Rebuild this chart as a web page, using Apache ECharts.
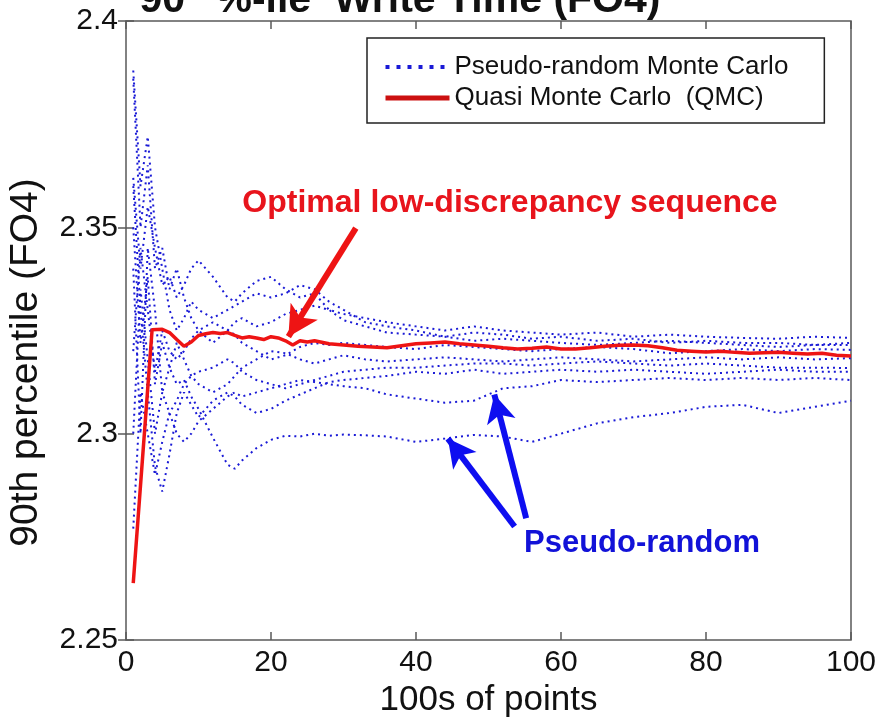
<!DOCTYPE html>
<html>
<head>
<meta charset="utf-8">
<script src="https://cdn.jsdelivr.net/npm/echarts@6/dist/echarts.min.js"></script>
<style>
  html, body { margin: 0; padding: 0; background: #fff; }
  #chart { width: 879px; height: 719px; }
</style>
</head>
<body>
<div id="chart"></div>
<script>
// x positions (100s of points) where the pseudo-random runs were read
const mcX = [1, 2, 3, 4, 5, 6, 7, 8, 9, 10, 12, 14, 15, 16, 18, 20, 22, 24, 26, 28, 30, 33, 36, 40, 44, 48, 52, 56, 60, 65, 70, 75, 80, 85, 90, 95, 100];

// pseudo-random Monte Carlo runs (90th percentile, FO4)
const mcRun1 = [2.362, 2.340, 2.355, 2.345, 2.336, 2.338, 2.333, 2.336, 2.340, 2.342, 2.338, 2.333, 2.332, 2.334, 2.337, 2.338, 2.335, 2.333, 2.334, 2.330, 2.329, 2.328, 2.327, 2.326, 2.325, 2.326, 2.325, 2.3245, 2.324, 2.3245, 2.3235, 2.324, 2.3235, 2.3232, 2.323, 2.3235, 2.3232];
const mcRun2 = [2.388, 2.360, 2.372, 2.350, 2.340, 2.330, 2.325, 2.328, 2.332, 2.330, 2.328, 2.330, 2.331, 2.332, 2.334, 2.333, 2.334, 2.336, 2.335, 2.332, 2.330, 2.327, 2.326, 2.325, 2.3235, 2.3245, 2.324, 2.323, 2.3235, 2.3225, 2.323, 2.322, 2.3225, 2.322, 2.322, 2.3215, 2.322];
const mcRun3 = [2.277, 2.310, 2.300, 2.290, 2.298, 2.305, 2.308, 2.312, 2.314, 2.315, 2.316, 2.318, 2.317, 2.315, 2.313, 2.312, 2.311, 2.312, 2.313, 2.314, 2.315, 2.3155, 2.316, 2.316, 2.3165, 2.317, 2.317, 2.3165, 2.317, 2.3175, 2.317, 2.3165, 2.317, 2.3165, 2.316, 2.316, 2.3159];
const mcRun4 = [2.350, 2.322, 2.338, 2.312, 2.322, 2.316, 2.312, 2.313, 2.309, 2.306, 2.299, 2.2925, 2.2915, 2.2935, 2.2965, 2.2985, 2.2995, 2.2993, 2.300, 2.2995, 2.2998, 2.2996, 2.2993, 2.298, 2.2988, 2.2997, 2.2993, 2.298, 2.300, 2.3025, 2.304, 2.305, 2.3065, 2.307, 2.305, 2.3065, 2.308];
const mcRun5 = [2.300, 2.335, 2.318, 2.300, 2.310, 2.305, 2.300, 2.298, 2.300, 2.303, 2.306, 2.309, 2.310, 2.309, 2.310, 2.311, 2.312, 2.313, 2.3125, 2.312, 2.3115, 2.311, 2.3095, 2.3085, 2.3075, 2.308, 2.311, 2.3115, 2.313, 2.3125, 2.313, 2.3135, 2.313, 2.3135, 2.313, 2.3135, 2.313];
const mcRun6 = [2.320, 2.345, 2.330, 2.315, 2.325, 2.320, 2.318, 2.320, 2.323, 2.325, 2.327, 2.325, 2.324, 2.322, 2.320, 2.318, 2.319, 2.321, 2.322, 2.3215, 2.322, 2.3215, 2.321, 2.3205, 2.3215, 2.321, 2.3205, 2.320, 2.3205, 2.321, 2.3205, 2.3195, 2.320, 2.3205, 2.320, 2.3205, 2.3203];
const mcRun7 = [2.340, 2.300, 2.345, 2.330, 2.310, 2.316, 2.322, 2.318, 2.314, 2.312, 2.310, 2.312, 2.314, 2.316, 2.318, 2.320, 2.3195, 2.318, 2.317, 2.318, 2.319, 2.318, 2.3175, 2.318, 2.3185, 2.318, 2.3175, 2.318, 2.3185, 2.318, 2.3175, 2.318, 2.3185, 2.318, 2.3185, 2.318, 2.3183];
const mcRun8 = [2.386, 2.350, 2.365, 2.340, 2.345, 2.335, 2.340, 2.333, 2.328, 2.325, 2.322, 2.325, 2.327, 2.328, 2.326, 2.327, 2.329, 2.330, 2.331, 2.330, 2.3275, 2.326, 2.3245, 2.324, 2.3235, 2.3225, 2.323, 2.3225, 2.322, 2.3215, 2.322, 2.3225, 2.322, 2.3215, 2.321, 2.3215, 2.3215];
const mcRun9 = [2.360, 2.330, 2.310, 2.292, 2.286, 2.295, 2.305, 2.310, 2.307, 2.304, 2.308, 2.310, 2.309, 2.307, 2.305, 2.306, 2.308, 2.3095, 2.311, 2.3125, 2.313, 2.3135, 2.314, 2.315, 2.3145, 2.3155, 2.3145, 2.315, 2.3155, 2.315, 2.3155, 2.315, 2.3145, 2.315, 2.3155, 2.315, 2.315];

// quasi Monte Carlo (QMC) run
const qmcX = [1, 3.6, 5, 6, 7, 8, 9, 10, 11, 12, 13, 14, 15, 16, 17, 18, 19, 20, 21, 22, 23, 24, 25, 26, 28, 30, 32, 34, 36, 38, 40, 42, 44, 46, 48, 50, 52, 54, 56, 58, 60, 62, 64, 66, 68, 70, 72, 74, 76, 78, 80, 82, 84, 86, 88, 90, 92, 94, 96, 98, 100];
const qmcY = [2.2638, 2.3252, 2.3253, 2.3245, 2.3228, 2.3212, 2.3222, 2.3238, 2.3242, 2.3245, 2.3243, 2.3245, 2.3238, 2.3232, 2.3235, 2.3232, 2.3228, 2.3235, 2.3232, 2.3225, 2.3215, 2.3225, 2.3222, 2.3225, 2.3218, 2.3215, 2.3212, 2.3210, 2.3208, 2.3213, 2.3218, 2.3220, 2.3222, 2.3218, 2.3215, 2.3212, 2.3208, 2.3205, 2.3207, 2.3210, 2.3205, 2.3205, 2.3208, 2.3212, 2.3214, 2.3215, 2.3213, 2.3208, 2.3202, 2.3200, 2.3198, 2.3200, 2.3197, 2.3195, 2.3196, 2.3197, 2.3195, 2.3193, 2.3195, 2.3190, 2.3188];

// annotation arrows, [from, to] in data coordinates
const optimalArrow = [[31.7, 2.3498], [22.4, 2.3235]];
const pseudoArrows = [
  [[53.6, 2.2775], [44.4, 2.2988]],
  [[55.2, 2.2795], [50.8, 2.3095]]
];

const MC_NAME = 'Pseudo-random Monte Carlo';
const QMC_NAME = 'Quasi Monte Carlo  (QMC)';
const FONT = '"Liberation Sans", Arial, Helvetica, sans-serif';
const BLUE = '#1a1ad6';
const RED = '#ee1414';

const mcRuns = [mcRun1, mcRun2, mcRun3, mcRun4, mcRun5, mcRun6, mcRun7, mcRun8, mcRun9];

const chart = echarts.init(document.getElementById('chart'));

function arrowData(pair) {
  return [{ coord: pair[0] }, { coord: pair[1] }];
}

const series = mcRuns.map(function (ys, i) {
  const s = {
    name: MC_NAME,
    type: 'line',
    data: mcX.map(function (x, j) { return [x, ys[j]]; }),
    symbol: 'none',
    lineStyle: { color: BLUE, width: 2, type: [2, 4] },
    itemStyle: { color: BLUE },
    z: 2
  };
  if (i === 0) {
    s.markLine = {
      silent: true,
      symbol: ['none', 'arrow'],
      symbolSize: [22, 28],
      label: { show: false },
      lineStyle: { color: '#0e0ef0', width: 6, type: 'solid' },
      data: pseudoArrows.map(arrowData)
    };
  }
  return s;
});

series.push({
  name: QMC_NAME,
  type: 'line',
  data: qmcX.map(function (x, j) { return [x, qmcY[j]]; }),
  symbol: 'none',
  lineStyle: { color: RED, width: 3.5 },
  itemStyle: { color: RED },
  z: 5,
  markLine: {
    silent: true,
    symbol: ['none', 'arrow'],
    symbolSize: [24, 30],
    label: { show: false },
    lineStyle: { color: RED, width: 6, type: 'solid' },
    data: [arrowData(optimalArrow)]
  }
});

const option = {
  animation: false,
  backgroundColor: '#fff',
  textStyle: { fontFamily: FONT },
  grid: {
    left: 126, right: 28, top: 21, bottom: 79,
    outerBoundsMode: 'none',
    show: true, borderColor: '#5a5a5a', borderWidth: 1.5
  },
  legend: {
    data: [
      { name: MC_NAME, lineStyle: { width: 4, type: [4, 7] } },
      { name: QMC_NAME, lineStyle: { width: 5, color: '#cc1010' } }
    ],
    orient: 'vertical',
    left: 367,
    top: 38,
    padding: [16, 36, 12, 16],
    itemWidth: 64,
    itemHeight: 14,
    itemGap: 5,
    backgroundColor: '#fff',
    borderColor: '#222',
    borderWidth: 1.5,
    borderRadius: 0,
    itemStyle: { opacity: 0 },
    textStyle: { fontSize: 26, color: '#111', fontFamily: FONT }
  },
  xAxis: [{
    type: 'value', min: 0, max: 100, interval: 20,
    name: '100s of points', nameLocation: 'middle', nameGap: 41,
    nameTextStyle: { fontSize: 35, color: '#111', fontFamily: FONT },
    axisLine: { show: false },
    axisTick: { inside: true, length: 8, lineStyle: { color: '#5a5a5a', width: 1.5 } },
    axisLabel: { fontSize: 30, color: '#111', margin: 8, fontFamily: FONT },
    splitLine: { show: false }
  }, {
    type: 'value', min: 0, max: 100, interval: 20, position: 'top',
    axisLine: { show: false },
    axisTick: { inside: true, length: 8, lineStyle: { color: '#5a5a5a', width: 1.5 } },
    axisLabel: { show: false },
    splitLine: { show: false }
  }],
  yAxis: [{
    type: 'value', min: 2.25, max: 2.4, interval: 0.05,
    name: '90th percentile (FO4)', nameLocation: 'middle', nameGap: 80, nameRotate: 90,
    nameTextStyle: { fontSize: 39, color: '#111', fontFamily: FONT, padding: [0, 64, 0, 0] },
    axisLine: { show: false },
    axisTick: { inside: true, length: 8, lineStyle: { color: '#5a5a5a', width: 1.5 } },
    axisLabel: { fontSize: 30, color: '#111', margin: 8, fontFamily: FONT },
    splitLine: { show: false }
  }, {
    type: 'value', min: 2.25, max: 2.4, interval: 0.05, position: 'right',
    axisLine: { show: false },
    axisTick: { inside: true, length: 8, lineStyle: { color: '#5a5a5a', width: 1.5 } },
    axisLabel: { show: false },
    splitLine: { show: false }
  }],
  graphic: [{
    type: 'text',
    x: 400, y: 21,
    style: {
      text: '{a|90}{b|th}{a| %-ile  Write Time (FO4)}',
      align: 'center', verticalAlign: 'bottom',
      rich: {
        a: { font: 'bold 41px ' + FONT, fill: '#111' },
        b: { font: 'bold 20px ' + FONT, fill: '#bbb', verticalAlign: 'top' }
      }
    }
  }, {
    type: 'text',
    x: 510, y: 203,
    style: {
      text: 'Optimal low-discrepancy sequence',
      font: 'bold 32px ' + FONT,
      fill: '#e8141c',
      align: 'center', verticalAlign: 'middle'
    }
  }, {
    type: 'text',
    x: 642, y: 543,
    style: {
      text: 'Pseudo-random',
      font: 'bold 31px ' + FONT,
      fill: '#1212d8',
      align: 'center', verticalAlign: 'middle'
    }
  }],
  series: series
};

chart.setOption(option);
</script>
</body>
</html>
